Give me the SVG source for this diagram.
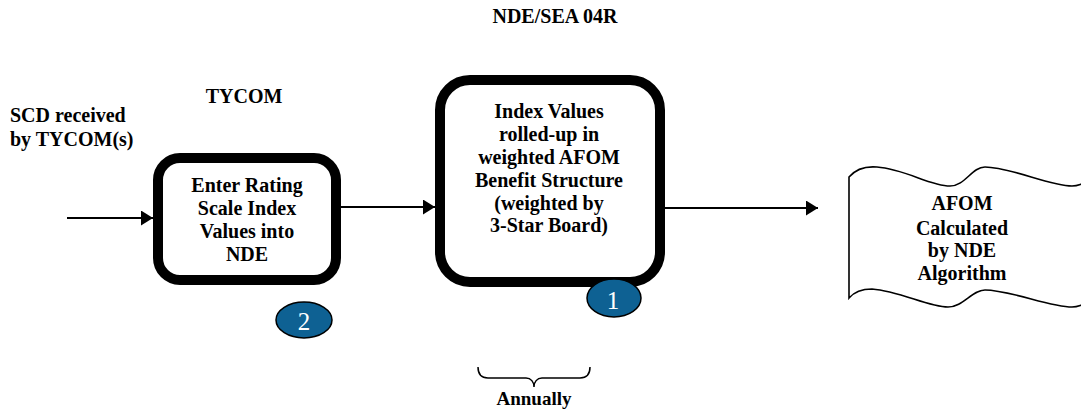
<svg xmlns="http://www.w3.org/2000/svg" width="1081" height="414" viewBox="0 0 1081 414">
<defs>
<marker id="ah" markerWidth="12" markerHeight="15" refX="12" refY="7.5" orient="auto" markerUnits="userSpaceOnUse">
<path d="M0,0 L12,7.5 L0,15 Z" fill="#000"/>
</marker>
<style>
text{font-family:'Liberation Serif','Times New Roman',Times,'DejaVu Serif',serif}
.t{font-weight:bold;font-size:20px;fill:#000}
.c{text-anchor:middle}
.box{fill:#fff;stroke:#000;stroke-width:10}
.badge{fill:#0E6193;stroke:#000;stroke-width:1.5}
.num{font-size:25px;fill:#fff;text-anchor:middle}
.conn{stroke:#000;stroke-width:2;fill:none}
</style>
</defs>
<rect width="1081" height="414" fill="#fff"/>

<text class="t c" x="555" y="23">NDE/SEA 04R</text>
<text class="t c" x="244" y="103">TYCOM</text>
<text class="t" x="10" y="122">SCD received</text>
<text class="t" x="10" y="146">by TYCOM(s)</text>

<g id="connectors">
<line class="conn" x1="67" y1="218" x2="153" y2="218" marker-end="url(#ah)"/>
<line class="conn" x1="341" y1="207" x2="435" y2="207" marker-end="url(#ah)"/>
<line class="conn" x1="665" y1="208" x2="818" y2="208" marker-end="url(#ah)"/>
</g>

<g id="node-enter-rating">
<rect class="box" x="158" y="158" width="178" height="122" rx="22"/>
<text class="t c" x="247" y="192">Enter Rating</text>
<text class="t c" x="247" y="215">Scale Index</text>
<text class="t c" x="247" y="238">Values into</text>
<text class="t c" x="247" y="261">NDE</text>
</g>

<g id="node-index-values">
<rect class="box" x="440" y="80" width="220" height="202" rx="30"/>
<text class="t c" x="549" y="118">Index Values</text>
<text class="t c" x="549" y="141">rolled-up in</text>
<text class="t c" x="549" y="164">weighted AFOM</text>
<text class="t c" x="549" y="187">Benefit Structure</text>
<text class="t c" x="549" y="210">(weighted by</text>
<text class="t c" x="549" y="232">3-Star Board)</text>
</g>

<g id="badge-1">
<ellipse class="badge" cx="614" cy="298" rx="27" ry="19"/>
<text class="num" x="613" y="309">1</text>
</g>

<g id="badge-2">
<ellipse class="badge" cx="304" cy="320" rx="28" ry="18"/>
<text class="num" x="304" y="330">2</text>
</g>

<g id="node-afom">
<path d="M849,298 L849,177 C855,170 865,166 877,167 C905,169 930,186 950,186 C965,186 972,167 985,167 C1010,167 1050,186 1072,186 C1078,186 1082,184 1090,180 L1090,301 C1082,305 1078,307 1072,307 C1050,307 1010,290 985,290 C972,290 963,307 948,307 C928,307 900,291 872,289 C862,289 855,291 849,298 Z" fill="#fff" stroke="#000" stroke-width="1.6"/>
<text class="t c" x="962" y="210">AFOM</text>
<text class="t c" x="962" y="235">Calculated</text>
<text class="t c" x="962" y="257">by NDE</text>
<text class="t c" x="962" y="280">Algorithm</text>
</g>

<g id="annually">
<path d="M478,367 C478,374 481,378 488,378 L526,378 C531,378 534,382 534,387 C534,382 537,378 542,378 L580,378 C587,378 590,374 590,367" fill="none" stroke="#000" stroke-width="1.5"/>
<text class="t c" x="534" y="405" style="font-size:19px">Annually</text>
</g>
</svg>
